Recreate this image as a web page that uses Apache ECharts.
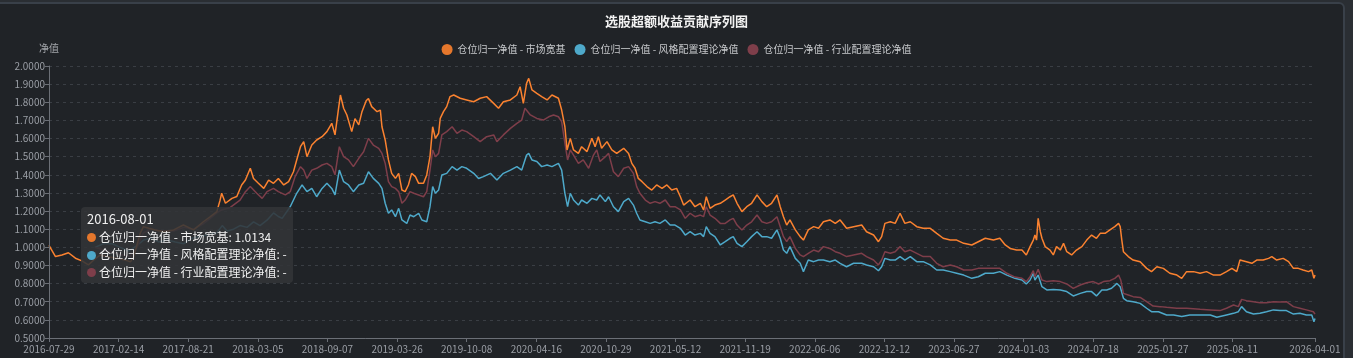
<!DOCTYPE html>
<html>
<head>
<meta charset="utf-8">
<script src="https://cdn.jsdelivr.net/npm/echarts@6/dist/echarts.min.js"></script>
<style>
  html, body { margin: 0; padding: 0; width: 1353px; height: 358px; overflow: hidden; background: #2a2e33; }
  #frame { position: absolute; left: -6px; top: 2px; width: 1351px; height: 400px; box-sizing: border-box;
           border: 2px solid #394049; border-radius: 6px; background: #202327; }
  #chart { position: absolute; left: 0; top: 0; width: 1353px; height: 358px; }
</style>
</head>
<body>
<div id="frame"></div>
<div id="chart"></div>
<script>
const chartTitle = '选股超额收益贡献序列图';
const seriesNames = ['仓位归一净值 - 市场宽基', '仓位归一净值 - 风格配置理论净值', '仓位归一净值 - 行业配置理论净值'];
const tickLabels = ['2016-07-29','2017-02-14','2017-08-21','2018-03-05','2018-09-07','2019-03-26','2019-10-08','2020-04-16','2020-10-29','2021-05-12','2021-11-19','2022-06-06','2022-12-12','2023-06-27','2024-01-03','2024-07-18','2025-01-27','2025-08-11','2026-04-01'];
const labelStep = 129;   // trading days between labelled dates
const lastDay = 2346;    // trading-day index of 2026-04-01
const hoverDay = 1;
const hoverDate = '2016-08-01';

// [trading-day index, net value]
const marketSeries = [[0,1.0105],[1,1.0134],[12,0.949],[24,0.958],[36,0.97],[49,0.94],[61,0.925],[73,0.903],[83,0.93],[95,0.958],[107,0.949],[126,0.94],[141,0.93],[151,0.92],[157,0.949],[163,1.013],[169,1.077],[175,1.114],[185,1.105],[197,1.096],[212,1.086],[231,1.096],[249,1.123],[268,1.096],[286,1.141],[299,1.169],[311,1.197],[317,1.26],[320,1.298],[327,1.243],[339,1.27],[348,1.28],[357,1.344],[364,1.371],[373,1.436],[379,1.38],[388,1.353],[398,1.325],[407,1.371],[416,1.353],[425,1.38],[435,1.344],[444,1.362],[453,1.417],[459,1.482],[466,1.555],[472,1.583],[478,1.5],[487,1.564],[496,1.592],[506,1.61],[515,1.638],[524,1.684],[530,1.62],[537,1.776],[540,1.84],[546,1.767],[552,1.73],[561,1.638],[567,1.71],[574,1.675],[580,1.748],[588,1.81],[592,1.82],[598,1.776],[608,1.748],[614,1.757],[617,1.665],[623,1.592],[629,1.482],[635,1.408],[642,1.38],[648,1.408],[654,1.316],[660,1.307],[666,1.344],[672,1.408],[679,1.39],[685,1.353],[694,1.353],[700,1.399],[706,1.5],[711,1.665],[716,1.601],[722,1.629],[725,1.711],[731,1.748],[737,1.776],[743,1.831],[750,1.84],[762,1.822],[774,1.813],[787,1.803],[799,1.822],[811,1.831],[824,1.794],[833,1.767],[842,1.803],[855,1.813],[867,1.84],[873,1.886],[879,1.794],[885,1.904],[889,1.932],[895,1.868],[904,1.849],[913,1.831],[923,1.813],[932,1.84],[944,1.822],[950,1.757],[956,1.665],[960,1.537],[966,1.601],[972,1.537],[981,1.518],[987,1.555],[997,1.528],[1006,1.601],[1012,1.555],[1018,1.61],[1024,1.546],[1034,1.583],[1043,1.537],[1052,1.518],[1065,1.546],[1074,1.518],[1080,1.463],[1086,1.436],[1092,1.38],[1099,1.362],[1108,1.335],[1117,1.316],[1126,1.344],[1136,1.325],[1145,1.344],[1154,1.316],[1163,1.325],[1170,1.279],[1176,1.233],[1188,1.261],[1197,1.224],[1207,1.243],[1213,1.206],[1218,1.279],[1225,1.215],[1234,1.233],[1244,1.243],[1253,1.261],[1262,1.279],[1268,1.289],[1275,1.243],[1284,1.197],[1293,1.224],[1302,1.243],[1312,1.289],[1321,1.252],[1330,1.224],[1339,1.243],[1349,1.289],[1355,1.224],[1361,1.169],[1367,1.123],[1373,1.151],[1383,1.096],[1392,1.059],[1398,1.04],[1407,1.096],[1417,1.114],[1426,1.105],[1435,1.141],[1447,1.151],[1457,1.132],[1466,1.151],[1478,1.105],[1491,1.114],[1506,1.123],[1515,1.086],[1528,1.068],[1537,1.031],[1543,1.059],[1549,1.132],[1559,1.141],[1568,1.132],[1577,1.188],[1586,1.132],[1596,1.141],[1608,1.114],[1620,1.105],[1633,1.105],[1645,1.077],[1657,1.05],[1670,1.04],[1682,1.04],[1695,1.022],[1710,1.013],[1722,1.031],[1735,1.05],[1750,1.04],[1762,1.05],[1772,1.013],[1781,0.994],[1793,0.985],[1803,0.985],[1811,0.958],[1818,1.004],[1824,1.04],[1827,1.068],[1830,1.04],[1833,1.16],[1837,1.086],[1840,1.05],[1846,1.004],[1855,0.985],[1861,0.958],[1867,1.004],[1874,0.985],[1880,1.022],[1886,0.976],[1895,0.958],[1904,0.985],[1914,1.004],[1923,1.04],[1932,1.068],[1941,1.05],[1948,1.077],[1957,1.077],[1966,1.096],[1975,1.114],[1982,1.132],[1985,1.114],[1988,1.04],[1991,0.976],[2000,0.949],[2009,0.93],[2022,0.921],[2034,0.884],[2043,0.866],[2053,0.893],[2065,0.884],[2077,0.857],[2090,0.847],[2099,0.829],[2108,0.866],[2121,0.866],[2133,0.857],[2145,0.866],[2158,0.847],[2170,0.847],[2182,0.866],[2192,0.884],[2201,0.866],[2207,0.93],[2219,0.921],[2229,0.912],[2238,0.93],[2250,0.93],[2260,0.939],[2266,0.949],[2275,0.93],[2287,0.939],[2297,0.921],[2306,0.884],[2315,0.884],[2324,0.875],[2334,0.866],[2340,0.875],[2344,0.829],[2346,0.847]];

const styleSeries = [[85,1.0],[101,1.02],[117,1.02],[132,1.0],[148,0.98],[163,1.01],[175,1.04],[188,1.05],[203,1.03],[219,1.04],[234,1.03],[250,1.02],[265,1.05],[280,1.06],[296,1.07],[311,1.08],[321,1.12],[330,1.09],[342,1.1],[354,1.12],[367,1.11],[379,1.14],[391,1.12],[404,1.15],[416,1.19],[425,1.17],[432,1.16],[447,1.224],[459,1.298],[469,1.344],[478,1.307],[487,1.325],[496,1.279],[506,1.325],[515,1.353],[524,1.325],[530,1.289],[538,1.426],[546,1.362],[555,1.344],[564,1.307],[574,1.344],[583,1.353],[592,1.417],[601,1.38],[611,1.353],[617,1.325],[623,1.243],[629,1.188],[635,1.206],[642,1.169],[648,1.215],[654,1.151],[663,1.132],[669,1.178],[676,1.169],[685,1.188],[691,1.151],[700,1.141],[706,1.224],[711,1.335],[716,1.298],[722,1.316],[728,1.399],[737,1.408],[747,1.445],[756,1.426],[765,1.445],[774,1.436],[787,1.408],[796,1.38],[805,1.39],[818,1.408],[830,1.371],[842,1.408],[855,1.426],[867,1.445],[876,1.426],[885,1.509],[889,1.518],[895,1.482],[904,1.473],[913,1.445],[923,1.454],[932,1.445],[944,1.463],[950,1.426],[956,1.298],[961,1.224],[966,1.298],[972,1.261],[981,1.233],[987,1.261],[997,1.243],[1006,1.27],[1015,1.261],[1021,1.289],[1031,1.252],[1037,1.279],[1046,1.224],[1055,1.197],[1065,1.252],[1074,1.27],[1083,1.233],[1089,1.188],[1095,1.151],[1105,1.141],[1114,1.132],[1123,1.141],[1132,1.132],[1142,1.151],[1151,1.123],[1160,1.123],[1170,1.105],[1179,1.068],[1188,1.086],[1197,1.068],[1207,1.077],[1213,1.059],[1218,1.114],[1225,1.077],[1234,1.059],[1244,1.013],[1253,1.031],[1262,1.05],[1268,1.059],[1275,1.022],[1284,1.004],[1293,1.031],[1302,1.059],[1312,1.086],[1321,1.059],[1330,1.059],[1339,1.05],[1349,1.096],[1355,1.05],[1361,0.985],[1367,0.967],[1373,1.004],[1383,0.939],[1392,0.912],[1398,0.866],[1407,0.93],[1417,0.921],[1426,0.93],[1435,0.93],[1447,0.921],[1457,0.93],[1466,0.912],[1478,0.893],[1491,0.912],[1506,0.912],[1515,0.903],[1528,0.893],[1537,0.871],[1543,0.893],[1549,0.939],[1559,0.93],[1568,0.93],[1577,0.949],[1586,0.93],[1596,0.949],[1608,0.921],[1620,0.921],[1633,0.903],[1645,0.875],[1657,0.875],[1670,0.866],[1682,0.857],[1695,0.847],[1710,0.829],[1722,0.838],[1735,0.857],[1750,0.857],[1762,0.866],[1775,0.847],[1790,0.829],[1803,0.82],[1811,0.798],[1818,0.82],[1824,0.857],[1827,0.82],[1833,0.847],[1840,0.783],[1849,0.765],[1861,0.768],[1874,0.765],[1886,0.756],[1898,0.732],[1911,0.746],[1923,0.756],[1932,0.756],[1941,0.732],[1951,0.765],[1960,0.765],[1969,0.774],[1979,0.801],[1985,0.783],[1991,0.719],[1997,0.706],[2009,0.7],[2022,0.691],[2034,0.664],[2043,0.645],[2056,0.645],[2071,0.627],[2084,0.627],[2099,0.618],[2114,0.627],[2133,0.627],[2152,0.627],[2164,0.614],[2182,0.627],[2195,0.636],[2204,0.645],[2210,0.673],[2219,0.645],[2232,0.632],[2244,0.636],[2256,0.645],[2269,0.655],[2281,0.651],[2293,0.651],[2306,0.632],[2318,0.636],[2330,0.627],[2340,0.627],[2344,0.59],[2346,0.608]];

const industrySeries = [[85,1.0],[107,0.98],[132,0.96],[151,0.95],[163,1.0],[175,1.08],[188,1.1],[206,1.09],[231,1.09],[250,1.11],[268,1.1],[286,1.13],[299,1.16],[311,1.19],[320,1.206],[336,1.22],[354,1.26],[364,1.307],[373,1.335],[385,1.298],[395,1.27],[404,1.307],[416,1.325],[425,1.307],[438,1.289],[447,1.307],[456,1.39],[466,1.445],[472,1.426],[478,1.38],[487,1.426],[496,1.436],[506,1.454],[515,1.463],[524,1.445],[530,1.4],[538,1.555],[546,1.5],[555,1.482],[564,1.445],[574,1.491],[583,1.527],[592,1.601],[601,1.564],[611,1.546],[617,1.518],[623,1.463],[629,1.362],[635,1.335],[642,1.325],[648,1.307],[654,1.243],[660,1.261],[669,1.307],[676,1.298],[685,1.289],[694,1.279],[700,1.307],[706,1.426],[711,1.537],[716,1.5],[722,1.518],[728,1.62],[737,1.638],[747,1.665],[756,1.629],[765,1.647],[774,1.638],[787,1.61],[799,1.583],[811,1.61],[824,1.62],[830,1.583],[842,1.62],[855,1.656],[867,1.684],[876,1.702],[882,1.767],[892,1.73],[904,1.711],[916,1.702],[926,1.72],[935,1.73],[944,1.72],[950,1.693],[956,1.574],[961,1.482],[966,1.537],[972,1.509],[981,1.463],[990,1.482],[1000,1.436],[1009,1.509],[1015,1.537],[1021,1.473],[1031,1.5],[1037,1.518],[1046,1.417],[1055,1.39],[1065,1.436],[1074,1.445],[1083,1.408],[1089,1.335],[1095,1.298],[1105,1.261],[1114,1.243],[1123,1.252],[1132,1.243],[1142,1.261],[1151,1.224],[1160,1.224],[1170,1.206],[1179,1.16],[1188,1.188],[1197,1.169],[1207,1.178],[1213,1.169],[1218,1.224],[1225,1.178],[1234,1.16],[1244,1.132],[1253,1.132],[1262,1.151],[1268,1.16],[1275,1.123],[1284,1.096],[1293,1.123],[1302,1.141],[1312,1.178],[1321,1.141],[1330,1.132],[1339,1.141],[1349,1.169],[1355,1.114],[1361,1.059],[1367,1.031],[1373,1.059],[1383,0.994],[1392,0.958],[1398,0.949],[1407,0.967],[1417,0.985],[1426,0.976],[1435,1.004],[1447,0.994],[1457,0.976],[1466,0.967],[1478,0.949],[1491,0.958],[1506,0.967],[1515,0.949],[1528,0.93],[1537,0.903],[1543,0.93],[1549,0.976],[1559,0.967],[1568,0.976],[1577,1.004],[1586,0.976],[1596,0.985],[1608,0.967],[1620,0.949],[1633,0.949],[1645,0.912],[1657,0.893],[1670,0.903],[1682,0.893],[1695,0.875],[1710,0.875],[1722,0.884],[1735,0.884],[1750,0.884],[1762,0.884],[1775,0.857],[1790,0.836],[1803,0.829],[1811,0.811],[1818,0.838],[1824,0.871],[1827,0.838],[1833,0.879],[1840,0.82],[1849,0.811],[1861,0.816],[1874,0.811],[1886,0.798],[1898,0.774],[1911,0.792],[1923,0.805],[1935,0.811],[1945,0.798],[1954,0.811],[1966,0.816],[1975,0.829],[1982,0.847],[1986,0.82],[1991,0.746],[2000,0.737],[2009,0.728],[2022,0.724],[2034,0.7],[2046,0.676],[2059,0.673],[2071,0.669],[2090,0.664],[2108,0.664],[2133,0.658],[2152,0.655],[2170,0.651],[2182,0.664],[2195,0.682],[2204,0.673],[2210,0.713],[2219,0.706],[2232,0.7],[2244,0.695],[2256,0.695],[2269,0.7],[2281,0.698],[2293,0.7],[2306,0.673],[2318,0.664],[2330,0.655],[2343,0.645],[2346,0.632]];

const colors = ['#e5772c', '#4ea9ca', '#7e3e4a'];
const FONT = '"Noto Sans CJK SC", "Noto Sans", sans-serif';

const chart = echarts.init(document.getElementById('chart'), null, { renderer: 'canvas' });

function tipFormatter(params) {
  const day = Math.round(params[0].axisValue);
  let html = '<div style="font-size:13px;line-height:17.5px;color:#f0f0f0">' + (day === hoverDay ? hoverDate : tickLabels[0]) + '</div>';
  for (let s = 0; s < seriesNames.length; s++) {
    const p = params.find(q => q.seriesIndex === s);
    const val = (p && Math.round(p.value[0]) === day) ? p.value[1].toFixed(4) : '-';
    html += '<div style="font-size:12px;line-height:17.5px;color:#f0f0f0;white-space:nowrap">' +
      '<span style="display:inline-block;width:9px;height:9px;border-radius:50%;background:' + colors[s] +
      ';margin-right:3px;vertical-align:-0.5px"></span>' + seriesNames[s] + ': ' + val + '</div>';
  }
  return html;
}

const option = {
  animation: false,
  backgroundColor: 'transparent',
  color: colors,
  textStyle: { fontFamily: FONT },
  title: {
    text: chartTitle, left: 'center', top: 10,
    textStyle: { color: '#f2f2f2', fontSize: 13, fontWeight: 'bold', fontFamily: FONT }
  },
  legend: {
    top: 39, left: 'center', icon: 'circle', itemWidth: 11, itemHeight: 11, itemGap: 9,
    data: seriesNames,
    textStyle: { color: '#c6c8cb', fontSize: 10, fontFamily: FONT }
  },
  tooltip: {
    trigger: 'axis',
    triggerOn: 'none',
    alwaysShowContent: true,
    position: [81, 207],
    backgroundColor: 'rgba(50,52,56,0.88)',
    borderWidth: 0,
    padding: [3, 6],
    extraCssText: 'box-shadow:none;border-radius:4px;',
    axisPointer: { type: 'line', lineStyle: { color: '#6b6f76', width: 1 } },
    formatter: tipFormatter
  },
  grid: { left: 49, right: 38, top: 66, bottom: 20, containLabel: false },
  xAxis: {
    type: 'value', min: 0, max: lastDay, interval: labelStep,
    axisLine: { show: true, lineStyle: { color: '#6b6f76', width: 1 } },
    axisTick: { show: true, length: 4, lineStyle: { color: '#6b6f76' } },
    splitLine: { show: false },
    axisLabel: {
      color: '#9a9ea5', fontSize: 10, margin: 6, fontFamily: FONT,
      showMinLabel: true, showMaxLabel: true,
      formatter: function (v) {
        if (v >= lastDay) return tickLabels[tickLabels.length - 1];
        return tickLabels[Math.round(v / labelStep)] || '';
      }
    }
  },
  yAxis: {
    type: 'value', min: 0.5, max: 2.0, interval: 0.1,
    name: '净值', nameLocation: 'end', nameGap: 13,
    nameTextStyle: { color: '#a3a6ab', fontSize: 10, fontFamily: FONT },
    axisLine: { show: true, lineStyle: { color: '#6b6f76', width: 1 } },
    axisTick: { show: true, length: 4, lineStyle: { color: '#6b6f76' } },
    axisLabel: { color: '#9a9ea5', fontSize: 10, margin: 4, fontFamily: FONT, formatter: v => v.toFixed(4) },
    splitLine: { show: true, lineStyle: { color: '#3a3e44', type: [3, 4], width: 1 } }
  },
  series: [
    { name: seriesNames[0], type: 'line', data: marketSeries, symbol: 'none', lineStyle: { width: 1.5, color: colors[0] }, itemStyle: { color: colors[0] } },
    { name: seriesNames[1], type: 'line', data: styleSeries, symbol: 'none', lineStyle: { width: 1.5, color: colors[1] }, itemStyle: { color: colors[1] } },
    { name: seriesNames[2], type: 'line', data: industrySeries, symbol: 'none', lineStyle: { width: 1.5, color: colors[2] }, itemStyle: { color: colors[2] } }
  ]
};

chart.setOption(option);
chart.dispatchAction({ type: 'showTip', seriesIndex: 0, dataIndex: 1 });
</script>
</body>
</html>
